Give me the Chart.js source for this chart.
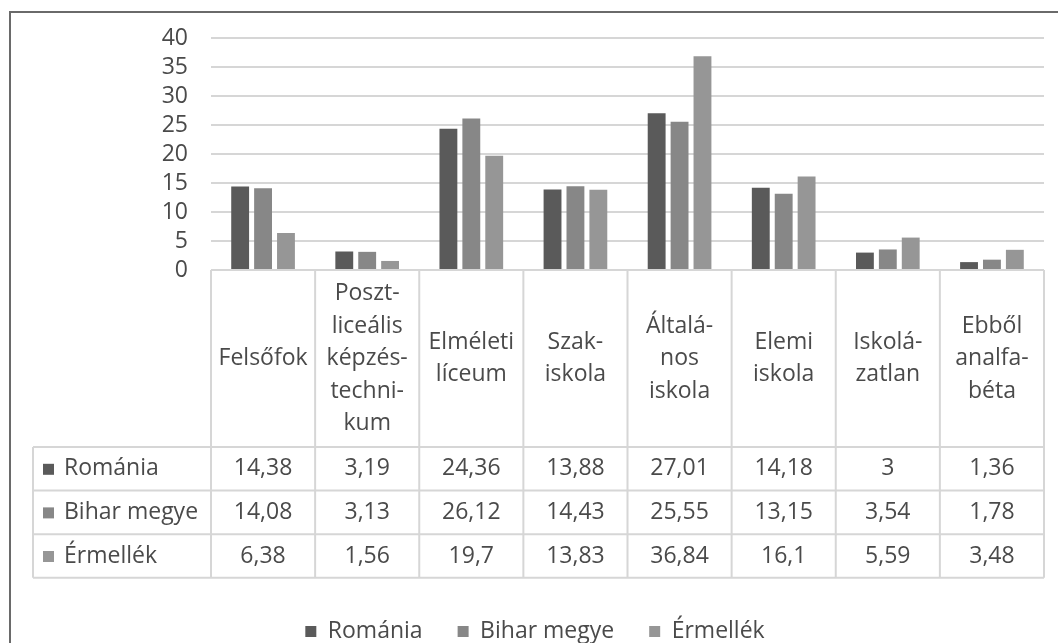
<!DOCTYPE html>
<html>
<head>
<meta charset="utf-8">
<script src="https://cdn.jsdelivr.net/npm/chart.js@4/dist/chart.umd.min.js"></script>
<style>
body { margin: 0; background: #fff; }
</style>
</head>
<body>
<canvas id="chart" width="1058" height="643"></canvas>
<script>
// categories as they are broken in the table header
var categories = [
    ['Felsőfok'],
    ['Poszt-', 'liceális', 'képzés-', 'techni-', 'kum'],
    ['Elméleti', 'líceum'],
    ['Szak-', 'iskola'],
    ['Általá-', 'nos', 'iskola'],
    ['Elemi', 'iskola'],
    ['Iskolá-', 'zatlan'],
    ['Ebből', 'analfa-', 'béta']
];
var seriesNames = ['Románia', 'Bihar megye', 'Érmellék'];
var romania = [14.38, 3.19, 24.36, 13.88, 27.01, 14.18, 3, 1.36];
var bihar = [14.08, 3.13, 26.12, 14.43, 25.55, 13.15, 3.54, 1.78];
var ermellek = [6.38, 1.56, 19.7, 13.83, 36.84, 16.1, 5.59, 3.48];
var yTicks = [0, 5, 10, 15, 20, 25, 30, 35, 40];

var seriesColors = ['#5a5a5a', '#878787', '#969696'];
var textColor = '#4a4a4a';
var lineColor = '#d6d6d6';
var fontFamily = '"Open Sans", "Noto Sans", sans-serif';
var fontSize = 23;

Chart.defaults.font.family = fontFamily;
Chart.defaults.font.size = fontSize;
Chart.defaults.color = textColor;

function fmt(v) {
    return String(v).replace('.', ',');
}

function line(ctx, x1, y1, x2, y2) {
    ctx.beginPath();
    ctx.moveTo(x1, y1);
    ctx.lineTo(x2, y2);
    ctx.stroke();
}

// outer frame (only top and left edge are visible in the picture)
var framePlugin = {
    id: 'frame',
    beforeDraw: function(chart) {
        var ctx = chart.ctx;
        ctx.save();
        ctx.strokeStyle = '#6a6a6a';
        ctx.lineWidth = 2;
        line(ctx, 9, 12, chart.width, 12);
        line(ctx, 10, 11, 10, chart.height);
        ctx.restore();
    }
};

// data table under the plot, columns follow the x scale
var tablePlugin = {
    id: 'dataTable',
    afterDraw: function(chart) {
        var ctx = chart.ctx;
        var area = chart.chartArea;
        var xs = chart.scales.x;
        var n = chart.data.labels.length;
        var colW = (area.right - area.left) / n;
        var top = area.bottom;
        var headBottom = top + 177;
        var rowH = 43.6;
        var tableLeft = 33;
        var sets = chart.data.datasets;
        var bottom = headBottom + rowH * sets.length;

        ctx.save();
        ctx.strokeStyle = lineColor;
        ctx.lineWidth = 2;
        line(ctx, area.left, top, area.right, top);
        for (var r = 0; r <= sets.length; r++) {
            var y = headBottom + r * rowH;
            line(ctx, tableLeft, y, area.right, y);
        }
        for (var i = 0; i <= n; i++) {
            var x = area.left + i * colW;
            line(ctx, x, top, x, bottom);
        }
        line(ctx, tableLeft, headBottom, tableLeft, bottom);

        ctx.fillStyle = textColor;
        ctx.font = fontSize + 'px ' + fontFamily;
        ctx.textAlign = 'center';
        ctx.textBaseline = 'middle';
        var lh = 32.5;
        var mid = (top + headBottom) / 2;
        chart.data.labels.forEach(function(lbl, i) {
            var cx = xs.getPixelForValue(i);
            var y0 = mid - (lbl.length - 1) * lh / 2;
            lbl.forEach(function(t, k) {
                ctx.fillText(t, cx, y0 + k * lh);
            });
        });

        sets.forEach(function(ds, d) {
            var cy = headBottom + rowH * (d + 0.5);
            ctx.fillStyle = ds.backgroundColor;
            ctx.fillRect(tableLeft + 10, cy - 5, 11, 11);
            ctx.fillStyle = textColor;
            ctx.textAlign = 'left';
            ctx.fillText(ds.label, tableLeft + 31, cy);
            ctx.textAlign = 'center';
            ds.data.forEach(function(v, i) {
                ctx.fillText(fmt(v), xs.getPixelForValue(i), cy);
            });
        });
        ctx.restore();
    }
};

var datasets = [romania, bihar, ermellek].map(function(vals, i) {
    return {
        label: seriesNames[i],
        data: vals,
        backgroundColor: seriesColors[i],
        borderWidth: 0,
        categoryPercentage: 0.66,
        barPercentage: 0.78
    };
});

new Chart(document.getElementById('chart'), {
    type: 'bar',
    data: {
        labels: categories,
        datasets: datasets
    },
    options: {
        responsive: false,
        animation: false,
        devicePixelRatio: 1,
        layout: {
            padding: { left: 26, right: 14, top: 38, bottom: -10 }
        },
        plugins: {
            tooltip: { enabled: false },
            legend: {
                position: 'bottom',
                labels: {
                    boxWidth: 11,
                    boxHeight: 11,
                    padding: 35,
                    color: textColor,
                    font: { size: fontSize }
                }
            }
        },
        scales: {
            x: {
                grid: { display: false },
                border: { display: false },
                ticks: { display: false },
                afterFit: function(s) { s.height = 315; }
            },
            y: {
                min: 0,
                max: 40,
                afterBuildTicks: function(s) {
                    s.ticks = yTicks.map(function(v) { return { value: v }; });
                },
                afterFit: function(s) { s.width = 185; },
                grid: { color: lineColor, lineWidth: 2, drawTicks: false },
                border: { display: false },
                ticks: {
                    padding: 23,
                    autoSkip: false,
                    color: textColor,
                    font: { size: fontSize, lineHeight: 1 }
                }
            }
        }
    },
    plugins: [framePlugin, tablePlugin]
});
</script>
</body>
</html>
